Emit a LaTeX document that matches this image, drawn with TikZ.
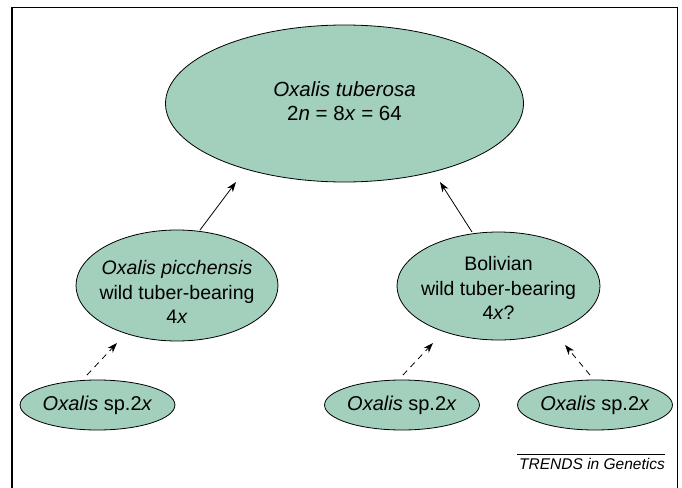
\documentclass[tikz,border=0pt]{standalone}
\usepackage{fontspec}
\setmainfont{Liberation Sans}
\usetikzlibrary{shapes.geometric,arrows.meta}
\definecolor{mint}{HTML}{A3CFBD}
\begin{document}
\begin{tikzpicture}[x=1pt,y=-1pt,
  oval/.style={ellipse,draw=black,line width=0.8pt,fill=mint,inner sep=0pt},
  label/.style={inner sep=0pt,align=center},
  solidarrow/.style={-{Stealth[length=10pt,width=7pt,inset=3pt]},line width=0.8pt},
  dasharrow/.style={-{Stealth[length=10pt,width=7pt,inset=3pt]},line width=0.8pt,dash pattern=on 6pt off 5pt}]
\useasboundingbox (0,0) rectangle (682,487);
\draw[line width=1.8pt] (12,7.5) rectangle (677.5,495);
\node[oval,minimum width=358pt,minimum height=157pt] (top) at (344.5,103.5) {};
\node[label,font=\fontsize{20.5}{24}\selectfont] (toptext) at (344.5,101) {\textit{Oxalis tuberosa}\\2\textit{n} = 8\textit{x} = 64};
\node[oval,minimum width=202pt,minimum height=111pt] (pic) at (177,285.5) {};
\node[label,font=\fontsize{19.5}{24.5}\selectfont] (pictext) at (177,292) {\textit{Oxalis picchensis}\\wild tuber-bearing\\4\textit{x}};
\node[oval,minimum width=203pt,minimum height=108pt] (bol) at (498.5,286) {};
\node[label,font=\fontsize{19.5}{24.5}\selectfont] (boltext) at (498.5,288) {Bolivian\\wild tuber-bearing\\4\textit{x}?};
\node[oval,minimum width=149pt,minimum height=50pt,font=\fontsize{20}{24}\selectfont] (s1) at (97.5,405) {\textit{Oxalis} sp.2\textit{x}};
\node[oval,minimum width=146pt,minimum height=50pt,font=\fontsize{20}{24}\selectfont] (s2) at (402,405) {\textit{Oxalis} sp.2\textit{x}};
\node[oval,minimum width=148pt,minimum height=50pt,font=\fontsize{20}{24}\selectfont] (s3) at (595,405) {\textit{Oxalis} sp.2\textit{x}};
\coordinate (a1s) at (200,230); \coordinate (a1e) at (236,182);
\coordinate (a2s) at (472,232); \coordinate (a2e) at (440,182);
\draw[solidarrow] (a1s) -- (a1e);
\draw[solidarrow] (a2s) -- (a2e);
\coordinate (d1s) at (87,375); \coordinate (d1e) at (117,343);
\coordinate (d2s) at (403,375); \coordinate (d2e) at (433,343);
\coordinate (d3s) at (590,375); \coordinate (d3e) at (565,345);
\draw[dasharrow] (d1s) -- (d1e);
\draw[dasharrow] (d2s) -- (d2e);
\draw[dasharrow] (d3s) -- (d3e);
\coordinate (ls) at (517,454); \coordinate (le) at (665,454);
\draw[line width=0.7pt] (ls) -- (le);
\node[anchor=base east,inner sep=0pt,font=\fontsize{15.5}{18}\selectfont\itshape] (trends) at (665,469) {TRENDS in Genetics};
\end{tikzpicture}
\end{document}
